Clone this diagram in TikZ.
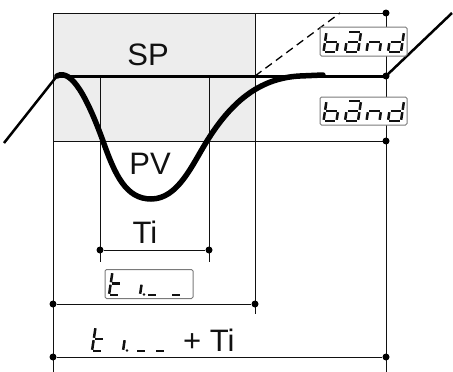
\documentclass[tikz,border=0pt]{standalone}
\usepackage{fontspec}
\setmainfont{Liberation Sans}
\definecolor{panel}{HTML}{EDEDED}
\definecolor{boxline}{HTML}{7A7A7A}
\definecolor{ink}{HTML}{111111}
% seven-segment glyph: #1=x, #2=y of bottom, #3=flags a b c d e f g
\def\sw{13}\def\sh{20}\def\sg{1.2}\def\sslant{0.15}
\newcommand\sevseg[3]{%
  \begin{scope}[shift={(#1,#2)},xslant=\sslant]
    \sevsegparts#3\relax
  \end{scope}}
\def\sevsegparts#1#2#3#4#5#6#7\relax{%
  \ifnum#1=1 \draw[segline] (\sg,-\sh) -- (\sw-\sg,-\sh);\fi
  \ifnum#2=1 \draw[segline] (\sw,-\sh+\sg) -- (\sw,-\sh/2-\sg);\fi
  \ifnum#3=1 \draw[segline] (\sw,-\sh/2+\sg) -- (\sw,-\sg);\fi
  \ifnum#4=1 \draw[segline] (\sg,0) -- (\sw-\sg,0);\fi
  \ifnum#5=1 \draw[segline] (0,-\sh/2+\sg) -- (0,-\sg);\fi
  \ifnum#6=1 \draw[segline] (0,-\sh+\sg) -- (0,-\sh/2-\sg);\fi
  \ifnum#7=1 \draw[segline] (\sg,-\sh/2) -- (\sw-\sg,-\sh/2);\fi}
\begin{document}
\begin{tikzpicture}[x=1pt,y=-1pt,
  thinln/.style={line width=1pt,draw=ink},
  spline/.style={line width=3pt,draw=black},
  diag/.style={line width=2.5pt,draw=black},
  pvcurve/.style={line width=5.5pt,draw=black,line cap=round},
  dashln/.style={line width=1.3pt,draw=black,dash pattern=on 8pt off 5pt},
  dot/.style={circle,fill=black,inner sep=0pt,minimum size=7pt},
  lbl/.style={font=\fontsize{31}{31}\selectfont,inner sep=0pt,text=ink},
  dispbox/.style={draw=boxline,line width=1pt,fill=white,rounded corners=1.5pt,inner sep=0pt},
  segline/.style={line width=2.5pt,draw=ink,line cap=butt},
]
\useasboundingbox (0,0) rectangle (453,372);
% panel
\fill[panel] (53,13) rectangle (255,141);
% grid coordinates
\coordinate (tl) at (53,13);
\coordinate (tm) at (255,13);
\coordinate (tr) at (386,13);
\coordinate (ml) at (53,141);
\coordinate (mr) at (386,141);
\coordinate (bl) at (53,372);
\coordinate (br) at (386,372);
\coordinate (vmb) at (255,314);
\coordinate (a1) at (100,76);
\coordinate (a2) at (100,262);
\coordinate (b1) at (209,76);
\coordinate (b2) at (209,262);
\coordinate (spl) at (57,76);
\coordinate (dstart) at (255,76);
\coordinate (dend) at (340,13);
\coordinate (lfree) at (4,143);
\coordinate (rfree) at (452,13);
% thin lines
\draw[thinln] (tl) -- (tr);
\draw[thinln] (ml) -- (mr);
\draw[thinln] (tl) -- (bl);
\draw[thinln] (tr) -- (br);
\draw[thinln] (tm) -- (vmb);
\draw[thinln] (a1) -- (a2);
\draw[thinln] (b1) -- (b2);
% dimension dots
\node[dot] (dtr) at (386,13) {};
\node[dot] (dsp) at (386,76) {};
\node[dot] (dmr) at (386,141) {};
\node[dot] (ti1) at (100,250) {};
\node[dot] (ti2) at (209,250) {};
\node[dot] (tn1) at (53,304) {};
\node[dot] (tn2) at (255,304) {};
\node[dot] (tt1) at (53,357) {};
\node[dot] (tt2) at (386,357) {};
\draw[thinln] (ti1) -- (ti2);
\draw[thinln] (tn1) -- (tn2);
\draw[thinln] (tt1) -- (tt2);
% dashed ramp
\draw[dashln] (dstart) -- (dend);
% setpoint line and ramps
\draw[diag] (lfree) -- (spl);
\draw[diag] (dsp.center) -- (rfree);
\draw[spline] (spl) -- (dsp.center);
% PV curve
\draw[pvcurve] (spl) .. controls (72,68) and (88,100) .. (103,141)
  .. controls (115,175) and (126,199) .. (151,199)
  .. controls (178,199) and (192,165) .. (207,141)
  .. controls (230,104) and (258,78) .. (300,76) -- (323,75);
% labels
\node[lbl,anchor=base] (sp) at (148,65) {SP};
\node[lbl,anchor=base] (pv) at (150,174) {PV};
\node[lbl,anchor=base] (ti) at (145,243) {Ti};
\node[lbl,anchor=base west] (plusti) at (183,351) {+ Ti};
% display boxes
\node[dispbox,minimum width=87pt,minimum height=29pt] (band1) at (363.5,41.5) {};
\node[dispbox,minimum width=87pt,minimum height=28pt] (band2) at (363.5,111) {};
\node[dispbox,minimum width=88pt,minimum height=29pt] (tibox) at (149,284) {};
% band 1
\sevseg{323.5}{52}{0011111}
\sevseg{345}{52}{1111101}
\sevseg{366.5}{52}{0010101}
\sevseg{388}{52}{0111101}
% band 2
\sevseg{323.5}{121}{0011111}
\sevseg{345}{121}{1111101}
\sevseg{366.5}{121}{0010101}
\sevseg{388}{121}{0111101}
% ti.-- in box
\def\sh{23}\def\sw{10}
\sevseg{109}{295}{0001111}
\sevseg{140}{295}{0000100}
\fill[ink] (144,294.5) circle (1.4);
\sevseg{147}{295}{0001000}
\sevseg{171}{295}{0001000}
% ti.-- bottom
\def\sh{24}\def\sw{10}
\sevseg{92}{351}{0001111}
\sevseg{123}{351}{0000100}
\fill[ink] (127,350.5) circle (1.4);
\sevseg{136}{351}{0001000}
\sevseg{155}{351}{0001000}
\end{tikzpicture}
\end{document}
